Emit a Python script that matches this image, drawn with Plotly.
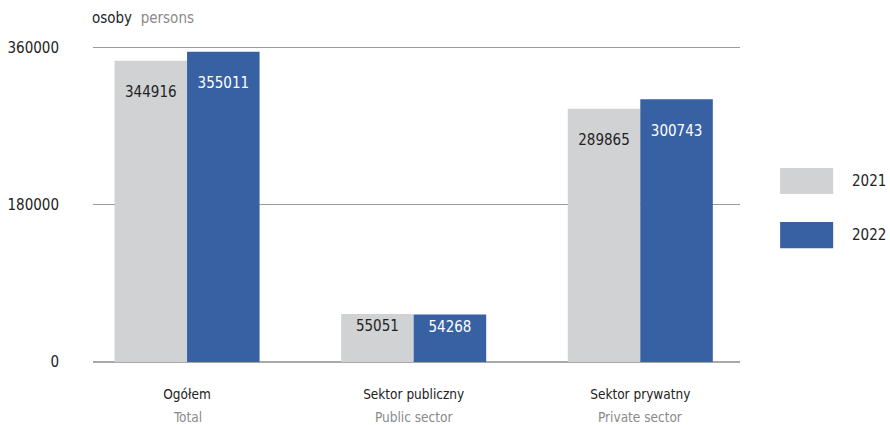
import plotly.graph_objects as go

# data
categories_pl = ["Ogółem", "Sektor publiczny", "Sektor prywatny"]
categories_en = ["Total", "Public sector", "Private sector"]
years = ["2021", "2022"]
values_2021 = [344916, 55051, 289865]
values_2022 = [355011, 54268, 300743]
y_ticks = [0, 180000, 360000]

FONT = "DejaVu Sans Condensed, Roboto, sans-serif"
GRAY = "#d1d2d4"
BLUE = "#3761a3"
MUTED = "#8a8a8a"


def bar_labels(values):
    # tall bars carry their label a little lower than short ones
    return [("\u00a0<br>" if v > 100000 else "") + str(v) for v in values]


fig = go.Figure()
fig.add_trace(go.Bar(
    x=categories_pl, y=values_2021, name=years[0],
    marker=dict(color=GRAY, line=dict(width=0)),
    text=bar_labels(values_2021),
    textposition="inside", insidetextanchor="end",
    textfont=dict(color="#222222", size=15, family=FONT),
    textangle=0,
))
fig.add_trace(go.Bar(
    x=categories_pl, y=values_2022, name=years[1],
    marker=dict(color=BLUE, line=dict(width=0)),
    text=bar_labels(values_2022),
    textposition="inside", insidetextanchor="end",
    textfont=dict(color="white", size=15, family=FONT),
    textangle=0,
))

fig.update_layout(
    width=890, height=425,
    margin=dict(l=93, r=150, t=44, b=63),
    plot_bgcolor="white", paper_bgcolor="white",
    barmode="group", bargap=0.36, bargroupgap=0,
    showlegend=False,
    font=dict(family=FONT, size=14, color="#222222"),
    xaxis=dict(range=[-0.415, 2.44], showgrid=False, showline=False,
               ticks="", tickfont=dict(size=13.5), ticklabelstandoff=22,
               automargin=False),
    yaxis=dict(range=[0, 364000], tickvals=y_ticks, ticktext=[str(v) for v in y_ticks],
               showgrid=True, gridcolor="#9a9a9a", gridwidth=1,
               zeroline=True, zerolinecolor="#a8a8a8", zerolinewidth=2,
               showline=False, ticks="", ticklabelstandoff=33,
               tickfont=dict(size=15), automargin=False),
)

# english category names under the polish ones
for cat, en in zip(categories_pl, categories_en):
    fig.add_annotation(x=cat, y=0, xref="x", yref="y", yshift=-55, yanchor="middle",
                       text=en, showarrow=False, font=dict(size=13.5, color=MUTED))

# unit label
fig.add_annotation(
    xref="paper", yref="paper", x=-0.005, y=1.082, xanchor="left", yanchor="middle",
    text="osoby  <span style='color:#8a8a8a'>persons</span>", showarrow=False,
    font=dict(size=15),
)

# legend drawn by hand
for i, (yr, col) in enumerate(zip(years, [GRAY, BLUE])):
    yc = [0.569, 0.399][i]
    fig.add_shape(type="rect", xref="paper", yref="paper",
                  x0=1.062, x1=1.144, y0=yc - 0.041, y1=yc + 0.041,
                  fillcolor=col, line=dict(width=0))
    fig.add_annotation(xref="paper", yref="paper", x=1.229, y=yc,
                       xanchor="right", yanchor="middle", text=yr, showarrow=False,
                       font=dict(size=15))

fig.write_html("out.html", config={"displayModeBar": False},
               post_script="document.body.style.margin='0';")
